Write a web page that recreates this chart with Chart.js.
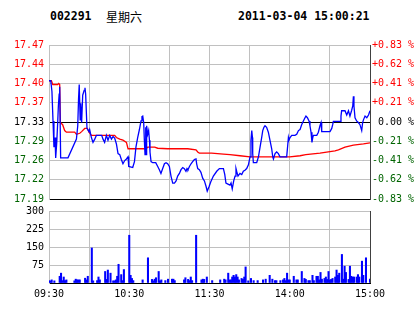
<!DOCTYPE html>
<html lang="zh">
<head>
<meta charset="UTF-8">
<title>002291 分时走势</title>
<style>
  body { margin: 0; background: #fff; }
  #wrap { position: relative; width: 414px; height: 314px; overflow: hidden; background: #fff; }
  .hd { position: absolute; top: 9px; font: bold 11.5px "DejaVu Sans Mono", monospace; line-height: 15px; color: #000; white-space: pre; }
  #code { left: 50px; }
  #week { left: 106px; font: 12px "Noto Sans CJK SC", sans-serif; line-height: 15px; }
  #time { left: 238px; }
  canvas { position: absolute; left: 0; }
  #price { top: 0; }
  #vol { top: 200px; }
</style>
</head>
<body>
<div id="wrap">
  <div class="hd" id="code">002291</div>
  <div class="hd" id="week">星期六</div>
  <div class="hd" id="time">2011-03-04 15:00:21</div>
  <canvas id="price" width="414" height="210"></canvas>
  <canvas id="vol" width="414" height="114"></canvas>
</div>

<script src="https://cdn.jsdelivr.net/npm/chart.js"></script>
<script>
// minutes since 09:30 (0..240, lunch break removed)
const timeTicks = [0, 60, 120, 180, 240];
const timeLabels = ['09:30', '10:30', '11:30', '14:00', '15:00'];

// price axis, previous close 17.33, +/-0.83 %
const priceTicks = [17.1862, 17.2222, 17.2581, 17.2941, 17.33, 17.366, 17.4019, 17.4379, 17.4738];
const priceTickLabels = ['17.19', '17.22', '17.26', '17.29', '17.33', '17.37', '17.40', '17.44', '17.47'];
const pctTickLabels = ['-0.83 %', '-0.62 %', '-0.41 %', '-0.21 %', ' 0.00 %', '+0.21 %', '+0.41 %', '+0.62 %', '+0.83 %'];

// last price (blue)
const priceMin = [
  0, 1.3, 2.2, 3.0, 3.7, 4.5, 5.0, 5.8, 6.5, 7.0,
  7.6, 8.0, 8.7, 14.2, 20.5, 21.5, 22.1, 22.6, 23.3, 23.7,
  24.4, 25.2, 26.3, 26.9, 27.4, 28.4, 29.9, 30.4, 31.7, 32.9,
  34.2, 35.4, 39.4, 40.4, 41.6, 42.9, 44.1, 45.4, 46.7, 47.9,
  49.1, 50.4, 51.6, 52.9, 54.1, 55.3, 56.6, 57.9, 59.1, 59.6,
  62.6, 63.9, 65.0, 66.3, 67.6, 68.8, 69.5, 70.1, 70.8, 71.3,
  71.8, 72.3, 72.8, 73.0, 73.8, 74.5, 75.1, 75.5, 76.3, 77.5,
  79.8, 81.3, 82.5, 83.7, 85.0, 86.3, 87.5, 88.7, 90.0, 91.2,
  92.5, 93.8, 95.0, 96.2, 97.5, 98.7, 100.0, 101.2, 102.4, 103.2,
  103.9, 105.0, 106.2, 107.4, 108.7, 109.9, 110.4, 111.2, 112.4, 113.6,
  114.9, 116.2, 117.4, 118.3, 119.8, 120.9, 122.9, 125.4, 127.4, 130.4,
  131.4, 132.3, 133.8, 135.3, 136.1, 137.0, 138.1, 139.1, 139.8, 140.3,
  141.3, 142.8, 144.1, 145.3, 146.5, 147.8, 149.1, 150.3, 151.0, 151.6,
  152.1, 152.3, 152.8, 155.3, 156.6, 157.8, 159.0, 159.8, 160.7, 161.5,
  162.7, 164.0, 165.2, 166.5, 167.3, 167.8, 169.0, 170.2, 171.5, 172.7,
  177.7, 178.5, 179.0, 179.4, 180.2, 181.5, 183.9, 185.2, 186.5, 187.7,
  188.9, 190.2, 191.4, 192.1, 193.2, 194.4, 195.1, 195.9, 196.6, 197.2,
  197.7, 200.2, 201.4, 202.6, 203.4, 203.9, 210.1, 211.4, 212.1, 212.6,
  217.6, 218.3, 218.8, 221.3, 222.6, 223.9, 225.0, 226.3, 227.1, 227.6,
  228.0, 228.8, 230.0, 231.3, 232.5, 233.8, 234.5, 235.1, 236.3, 237.6,
  238.9, 240.0
];
const priceVal = [
  17.407, 17.407, 17.387, 17.332, 17.283, 17.301, 17.263, 17.292, 17.329, 17.360,
  17.382, 17.396, 17.263, 17.263, 17.298, 17.323, 17.374, 17.400, 17.334, 17.365,
  17.329, 17.380, 17.389, 17.394, 17.382, 17.318, 17.312, 17.316, 17.301, 17.292,
  17.298, 17.305, 17.305, 17.298, 17.292, 17.305, 17.296, 17.305, 17.298, 17.303,
  17.300, 17.289, 17.271, 17.269, 17.260, 17.252, 17.258, 17.261, 17.265, 17.247,
  17.245, 17.256, 17.283, 17.301, 17.316, 17.332, 17.340, 17.341, 17.329, 17.296,
  17.269, 17.320, 17.269, 17.323, 17.307, 17.314, 17.296, 17.274, 17.256, 17.254,
  17.254, 17.247, 17.241, 17.234, 17.243, 17.252, 17.254, 17.252, 17.247, 17.229,
  17.216, 17.216, 17.220, 17.229, 17.234, 17.241, 17.245, 17.243, 17.238, 17.243,
  17.241, 17.247, 17.252, 17.256, 17.260, 17.261, 17.252, 17.243, 17.241, 17.236,
  17.225, 17.220, 17.210, 17.201, 17.210, 17.218, 17.229, 17.238, 17.243, 17.243,
  17.232, 17.216, 17.214, 17.212, 17.216, 17.205, 17.220, 17.229, 17.243, 17.238,
  17.229, 17.234, 17.232, 17.238, 17.240, 17.243, 17.250, 17.265, 17.296, 17.314,
  17.301, 17.271, 17.254, 17.254, 17.265, 17.283, 17.301, 17.314, 17.320, 17.323,
  17.320, 17.311, 17.296, 17.280, 17.265, 17.261, 17.271, 17.274, 17.271, 17.265,
  17.265, 17.287, 17.301, 17.296, 17.301, 17.305, 17.305, 17.307, 17.314, 17.316,
  17.325, 17.332, 17.338, 17.341, 17.338, 17.332, 17.323, 17.311, 17.292, 17.301,
  17.305, 17.305, 17.311, 17.323, 17.329, 17.312, 17.312, 17.318, 17.325, 17.331,
  17.331, 17.341, 17.351, 17.351, 17.343, 17.351, 17.341, 17.352, 17.360, 17.378,
  17.360, 17.338, 17.332, 17.329, 17.325, 17.314, 17.329, 17.334, 17.341, 17.338,
  17.343, 17.351
];

// average price (red)
const avgMin = [
  0, 1.8, 2.8, 6.5, 7.3, 8.0, 8.5, 10.2, 11.7, 13.0,
  19.2, 20.5, 23.0, 24.4, 26.7, 28.7, 29.9, 31.7, 34.2, 49.1,
  50.4, 52.9, 55.3, 57.9, 59.1, 72.5, 73.8, 79.0, 81.3, 88.7,
  103.7, 109.9, 111.2, 112.4, 121.6, 130.4, 135.3, 142.8, 150.3, 180.0,
  187.7, 192.0, 202.6, 213.8, 216.4, 221.3, 227.6, 235.1, 240.0
];
const avgVal = [
  17.407, 17.407, 17.400, 17.400, 17.402, 17.400, 17.329, 17.325, 17.314, 17.311,
  17.311, 17.307, 17.309, 17.312, 17.318, 17.318, 17.311, 17.305, 17.305, 17.305,
  17.301, 17.298, 17.296, 17.292, 17.280, 17.280, 17.283, 17.283, 17.281, 17.280,
  17.280, 17.278, 17.274, 17.272, 17.272, 17.270, 17.269, 17.267, 17.265, 17.265,
  17.267, 17.269, 17.272, 17.276, 17.278, 17.283, 17.287, 17.289, 17.291
];

// volume (lots)
const volMin = [
  0, 1, 2, 4, 8, 9, 10, 11, 12, 13,
  19, 20, 21, 22, 23, 27, 28, 29, 32, 33,
  36, 37, 38, 42, 43, 44, 46, 48, 49, 50,
  51, 52, 54, 55, 56, 60, 61, 62, 63, 70,
  74, 77, 78, 79, 80, 82, 83, 84, 87, 89,
  92, 93, 94, 101, 102, 104, 105, 106, 107, 110,
  114, 115, 116, 118, 122, 128, 131, 132, 134, 135,
  136, 137, 138, 139, 140, 141, 142, 144, 145, 146,
  147, 149, 151, 153, 156, 160, 162, 165, 167, 169,
  170, 173, 175, 176, 177, 178, 179, 180, 183, 185,
  186, 189, 191, 192, 194, 195, 197, 198, 200, 201,
  202, 203, 204, 206, 207, 208, 209, 210, 211, 212,
  214, 215, 216, 217, 219, 220, 221, 222, 224, 225,
  226, 227, 228, 230, 231, 232, 234, 235, 237, 240
];
const volVal = [
  9, 9, 13, 9, 28, 41, 10, 25, 10, 13,
  9, 16, 13, 13, 13, 20, 13, 28, 146, 9,
  10, 25, 13, 48, 15, 54, 41, 9, 9, 13,
  28, 78, 35, 10, 56, 199, 32, 19, 10, 13,
  105, 15, 9, 16, 22, 48, 9, 13, 10, 16,
  16, 16, 10, 13, 22, 15, 10, 25, 10, 199,
  13, 16, 15, 25, 10, 13, 16, 13, 41, 13,
  13, 25, 32, 25, 35, 25, 13, 19, 15, 25,
  67, 9, 19, 10, 10, 13, 16, 32, 16, 10,
  10, 10, 13, 19, 10, 41, 13, 13, 28, 13,
  13, 48, 19, 15, 10, 10, 32, 10, 28, 28,
  13, 44, 16, 19, 25, 15, 48, 13, 15, 19,
  25, 54, 32, 41, 119, 16, 70, 44, 15, 70,
  28, 25, 25, 25, 35, 25, 91, 32, 105, 16
];
const volTicks = [0, 75, 150, 225, 300];

const GRID = '#c0c0c0';
const UP = '#ff0000';
const DOWN = '#006400';

Chart.defaults.font.family = '"DejaVu Sans Mono", monospace';
Chart.defaults.font.size = 10;
Chart.defaults.color = '#000';

function tickColor(c) {
  if (c.index > 4) return UP;
  if (c.index < 4) return DOWN;
  return '#000';
}
function timeGrid(c) {
  return c.tick && c.tick.value === 240 ? '#404040' : GRID;
}

new Chart(document.getElementById('price'), {
  type: 'line',
  data: {
    datasets: [
      {
        data: priceMin.map((m, i) => ({ x: m, y: priceVal[i] })),
        borderColor: '#0000ff',
        borderWidth: 1.3,
        pointRadius: 0,
        tension: 0
      },
      {
        data: avgMin.map((m, i) => ({ x: m, y: avgVal[i] })),
        borderColor: '#ff0000',
        borderWidth: 1.3,
        pointRadius: 0,
        tension: 0
      }
    ]
  },
  options: {
    responsive: false,
    animation: false,
    events: [],
    layout: { padding: { top: 45, bottom: 7, left: 0, right: 0 } },
    plugins: { legend: { display: false }, tooltip: { enabled: false } },
    scales: {
      x: {
        type: 'linear', min: 0, max: 240,
        ticks: { display: false, stepSize: 30 },
        grid: { color: timeGrid, drawTicks: false },
        border: { color: '#000' }
      },
      y: {
        position: 'left',
        min: priceTicks[0], max: priceTicks[8],
        afterBuildTicks: s => { s.ticks = priceTicks.map(v => ({ value: v })); },
        afterFit: s => { s.width = 49; },
        ticks: { autoSkip: false, padding: 5, color: tickColor, callback: (v, i) => priceTickLabels[i] },
        grid: { drawTicks: false, color: c => (c.index === 0 || c.index === 4) ? '#000' : GRID },
        border: { color: GRID }
      },
      y2: {
        position: 'right',
        min: priceTicks[0], max: priceTicks[8],
        afterBuildTicks: s => { s.ticks = priceTicks.map(v => ({ value: v })); },
        afterFit: s => { s.width = 44; },
        ticks: { autoSkip: false, padding: 2, color: tickColor, callback: (v, i) => pctTickLabels[i] },
        grid: { display: false, drawTicks: false },
        border: { color: '#404040' }
      }
    }
  }
});

new Chart(document.getElementById('vol'), {
  type: 'bar',
  data: {
    datasets: [{
      data: volMin.map((m, i) => ({ x: m, y: volVal[i] })),
      backgroundColor: '#0000ff',
      barThickness: 1.4
    }]
  },
  options: {
    responsive: false,
    animation: false,
    events: [],
    layout: { padding: { top: 9, bottom: 9, left: 0, right: 44 } },
    plugins: { legend: { display: false }, tooltip: { enabled: false } },
    scales: {
      x: {
        type: 'linear', min: 0, max: 240, offset: false,
        ticks: {
          stepSize: 30, autoSkip: false, maxRotation: 0, padding: 5,
          callback: v => {
            const k = timeTicks.indexOf(v);
            return k >= 0 ? timeLabels[k] : '';
          }
        },
        grid: { offset: false, drawTicks: false, color: timeGrid },
        border: { color: '#000' }
      },
      y: {
        min: 0, max: 300,
        afterBuildTicks: s => { s.ticks = volTicks.map(v => ({ value: v })); },
        afterFit: s => { s.width = 49; },
        ticks: { autoSkip: false, padding: 5, callback: v => v === 0 ? '' : String(v) },
        grid: { drawTicks: false, color: c => c.index === 0 ? '#000' : GRID },
        border: { color: GRID }
      }
    }
  }
});
</script>
</body>
</html>
